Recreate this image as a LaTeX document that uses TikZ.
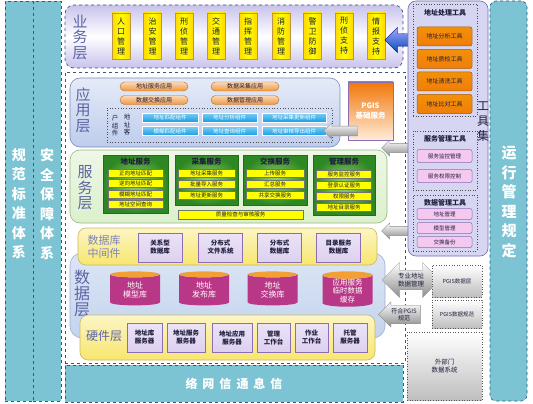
\documentclass[tikz,border=0pt]{standalone}
\usepackage{fontspec}
\setmainfont{Noto Sans CJK SC}
\usetikzlibrary{shapes.geometric,shapes.arrows}
\definecolor{tealc}{RGB}{124,196,212}
\definecolor{dashc}{RGB}{55,85,135}
\definecolor{lavc}{RGB}{200,194,236}
\definecolor{labc}{RGB}{92,100,165}
\definecolor{yelc}{RGB}{255,232,0}
\definecolor{ybord}{RGB}{185,150,70}
\definecolor{appc}{RGB}{190,204,236}
\definecolor{appb}{RGB}{120,140,190}
\definecolor{orgc}{RGB}{240,150,60}
\definecolor{bluec}{RGB}{20,160,230}
\definecolor{srvc}{RGB}{220,240,204}
\definecolor{srvb}{RGB}{150,185,130}
\definecolor{grnd}{RGB}{45,135,35}
\definecolor{grnl}{RGB}{150,210,110}
\definecolor{ylw}{RGB}{255,255,0}
\definecolor{midc}{RGB}{248,230,110}
\definecolor{midb}{RGB}{200,185,100}
\definecolor{purc}{RGB}{222,208,240}
\definecolor{purb}{RGB}{140,110,180}
\definecolor{datac}{RGB}{196,212,238}
\definecolor{magc}{RGB}{185,55,135}
\definecolor{toolc}{RGB}{214,214,242}
\definecolor{toolb}{RGB}{110,110,180}
\definecolor{torg}{RGB}{240,125,10}
\definecolor{pinkc}{RGB}{245,200,240}
\definecolor{grayc}{RGB}{190,190,190}
\definecolor{arrg}{RGB}{140,140,140}
\definecolor{txtd}{RGB}{30,30,60}
\newcommand\fsz[2]{\fontsize{#1}{#2}\selectfont}
\begin{document}
\begin{tikzpicture}[x=1pt,y=-1pt,
 every node/.style={inner sep=0pt, outer sep=0pt},
 col/.style={draw=dashc, dashed, line width=0.6pt, fill=tealc},
 coltxt/.style={align=center, text=white, font=\fsz{14}{19.5}\bfseries},
 vlab/.style={align=center, text=labc},
 ybox/.style={draw=ybord, line width=0.5pt, left color=yelc!85!orange, right color=yelc!85!orange, middle color=yellow, minimum width=18, minimum height=46, align=center, font=\fsz{8}{10}, text=txtd},
 capsule/.style={draw=orgc!75!black, line width=0.4pt, rounded corners=4.5, top color=orgc!35!white, bottom color=orgc, minimum width=68, minimum height=9, font=\fsz{6}{7}, text=txtd},
 bbtn/.style={draw=white, line width=0.3pt, top color=bluec!55!white, bottom color=bluec, minimum height=9, font=\fsz{5.5}{6}, text=white},
 ggrp/.style={draw=grnd!80!black, line width=0.4pt, shading=radial, inner color=grnl, outer color=grnd},
 gtitle/.style={font=\fsz{7.5}{8}\bfseries, text=txtd},
 yent/.style={draw=black!55, line width=0.4pt, fill=ylw, minimum height=8, font=\fsz{5.5}{6}, text=txtd},
 pbox/.style={draw=purb, line width=0.6pt, top color=purc!60!white, bottom color=purc, align=center, font=\fsz{6.5}{8}\bfseries, text=txtd},
 cyl/.style={cylinder, shape border rotate=90, aspect=0.25, cylinder uses custom fill, cylinder body fill=magc, cylinder end fill=orgc!90!yellow, minimum width=50, minimum height=34, align=center, font=\fsz{8}{9.5}, text=white},
 tbox/.style={draw=black!70, dotted, line width=0.6pt},
 ttitle/.style={font=\fsz{7}{8}\bfseries, text=txtd},
 obox/.style={draw=torg!70!black, line width=0.5pt, rounded corners=2, top color=torg!85!yellow, bottom color=torg, minimum width=55, minimum height=19, font=\fsz{6}{7}, text=txtd},
 kbox/.style={draw=purb, line width=0.5pt, rounded corners=2, fill=pinkc, minimum width=55, font=\fsz{5.5}{6}, text=txtd},
 gbox/.style={draw=black!65, dotted, line width=0.6pt, top color=white, bottom color=grayc, align=center, font=\fsz{5.5}{7}, text=txtd},
 garr/.style={single arrow, shape border rotate=180, draw=black!45, line width=0.3pt, top color=white, bottom color=arrg, single arrow head extend=3pt, align=center, font=\fsz{6}{7.5}, text=txtd}
]
\useasboundingbox (0,0) rectangle (533,404);
\fill[white] (0,0) rectangle (533,404);

% left columns
\node[col, minimum width=28, minimum height=400] (colA) at (19,201) {};
\node[col, minimum width=28, minimum height=400] (colB) at (47,201) {};
\node[coltxt] (colAt) at (19,204) {规\\范\\标\\准\\体\\系};
\node[coltxt] (colBt) at (47,204) {安\\全\\保\\障\\体\\系};

% right column
\node[col, rounded corners=6, minimum width=37, minimum height=400] (colR) at (508.5,201) {};
\node[coltxt, font=\fsz{15}{19.5}\bfseries] (colRt) at (509,202) {运\\行\\管\\理\\规\\定};

% business layer
\node[draw=dashc, dashed, line width=0.7pt, rounded corners=9, top color=lavc, bottom color=lavc, middle color=white, minimum width=338, minimum height=63] (biz) at (234,36.5) {};
\node[vlab, font=\fsz{15}{15.5}] (bizl) at (80,37) {业\\务\\层};
\node[ybox] (b1) at (121,36) {人\\口\\管\\理};
\node[ybox] (b2) at (152.5,36) {治\\安\\管\\理};
\node[ybox] (b3) at (184,36) {刑\\侦\\管\\理};
\node[ybox] (b4) at (216,36) {交\\通\\管\\理};
\node[ybox] (b5) at (248,36) {指\\挥\\管\\理};
\node[ybox] (b6) at (281,36) {消\\防\\管\\理};
\node[ybox] (b7) at (312.5,36) {警\\卫\\防\\御};
\node[ybox] (b8) at (344,36) {刑\\侦\\支\\持};
\node[ybox] (b9) at (376,36) {情\\报\\支\\持};

% lower dashed frame
\node[draw=dashc, dashed, line width=0.7pt, minimum width=340, minimum height=291] (low) at (235,217.5) {};

% arrows from tool set (drawn under tool column)
\node[single arrow, shape border rotate=180, draw=blue!50!black, line width=0.3pt, top color=blue!35!white, bottom color=blue!60!black!70!cyan, minimum height=24, minimum width=25, inner sep=6pt, single arrow head extend=6.5pt] (barr) at (400,40) {};
\node[garr, minimum height=28, minimum width=16, inner sep=4pt] (sarr) at (398,148) {};
\node[garr, minimum height=28, minimum width=16, inner sep=4pt] (marr) at (398,231) {};

% tool set column
\node[draw=toolb, line width=0.6pt, rounded corners=8, fill=toolc, minimum width=80, minimum height=255] (tools) at (448,128.5) {};
\node[font=\fsz{12}{15}, text=txtd, align=center] (toolsl) at (483,122) {工\\具\\集};
\node[tbox, minimum width=64, minimum height=112] (t1) at (445,60) {};
\node[ttitle] (t1l) at (445,13) {地址处理工具};
\node[obox] (o1) at (444.5,36.5) {地址分析工具};
\node[obox] (o2) at (444.5,59) {地址质检工具};
\node[obox] (o3) at (444.5,81.5) {地址清洗工具};
\node[obox] (o4) at (444.5,104) {地址比对工具};
\node[tbox, minimum width=64, minimum height=59] (t2) at (445,160.5) {};
\node[ttitle] (t2l) at (445,139) {服务管理工具};
\node[kbox, minimum height=13] (k1) at (444.5,156) {服务监控管理};
\node[kbox, minimum height=13] (k2) at (444.5,176) {服务权限控制};
\node[tbox, minimum width=64, minimum height=56] (t3) at (445,223) {};
\node[ttitle] (t3l) at (445,203) {数据管理工具};
\node[kbox, minimum height=11] (k3) at (444.5,214) {地址管理};
\node[kbox, minimum height=11] (k4) at (444.5,228) {模型管理};
\node[kbox, minimum height=11] (k5) at (444.5,242) {交换备份};

% application layer
\node[draw=appb, line width=0.6pt, rounded corners=10, top color=appc!40!white, bottom color=appc, minimum width=270, minimum height=69] (app) at (205,112.5) {};
\node[vlab, font=\fsz{15}{15.5}] (appl) at (83,110) {应\\用\\层};
\node[capsule] (c1) at (154,86.5) {地址服务应用};
\node[capsule] (c2) at (154,100) {数据交换应用};
\node[capsule] (c3) at (245,86.5) {数据采集应用};
\node[capsule] (c4) at (245,100) {数据管理应用};
\node[draw=black!70, dotted, line width=0.7pt, minimum width=225, minimum height=34] (comp) at (219.5,125) {};
\node[font=\fsz{6.5}{7.5}, text=txtd, align=center] (compl1) at (115,126) {户\\组\\件};
\node[font=\fsz{6.5}{7.5}, text=txtd, align=center] (compl2) at (127,125) {地\\址\\客};
\node[bbtn, minimum width=56] (u1) at (170,117.5) {地址匹配组件};
\node[bbtn, minimum width=55] (u2) at (229.5,117.5) {地址分析组件};
\node[bbtn, minimum width=64] (u3) at (294,117.5) {地址采集更新组件};
\node[bbtn, minimum width=56] (u4) at (170,131) {模糊匹配组件};
\node[bbtn, minimum width=55] (u5) at (229.5,131) {地址查询组件};
\node[bbtn, minimum width=64] (u6) at (294,131) {地址审核导出组件};

% PGIS base service
\node[draw=purb, line width=0.8pt, top color=torg!95!red, bottom color=orange!15!white, minimum width=45, minimum height=58, align=center, font=\fsz{7.5}{10}\bfseries, text=white] (pgis) at (370.5,111) {PGIS\\基础服务};
\node[garr, minimum height=34, minimum width=16, inner sep=4.5pt] (parr) at (343,131) {};

% service layer
\node[draw=srvb, line width=0.6pt, rounded corners=10, top color=srvc!50!white, bottom color=srvc, minimum width=317, minimum height=73] (srv) at (228.5,186.5) {};
\node[vlab, font=\fsz{15}{15.5}] (srvl) at (85,188) {服\\务\\层};
\node[ggrp, minimum width=65, minimum height=58] (g1) at (135.5,184) {};
\node[ggrp, minimum width=63, minimum height=50] (g2) at (206.5,180) {};
\node[ggrp, minimum width=64, minimum height=50] (g3) at (275,180) {};
\node[ggrp, minimum width=62, minimum height=60] (g4) at (344,185) {};
\node[gtitle] (g1l) at (135.5,162) {地址服务};
\node[gtitle] (g2l) at (206.5,162) {采集服务};
\node[gtitle] (g3l) at (275,162) {交换服务};
\node[gtitle] (g4l) at (344,162) {管理服务};
\node[yent, minimum width=55] (e11) at (135.5,173) {正向地址匹配};
\node[yent, minimum width=55] (e12) at (135.5,183.5) {逆向地址匹配};
\node[yent, minimum width=55] (e13) at (135.5,194) {模糊地址匹配};
\node[yent, minimum width=55] (e14) at (135.5,204.5) {地址空间查询};
\node[yent, minimum width=57] (e21) at (206.5,173.5) {地址采集服务};
\node[yent, minimum width=57] (e22) at (206.5,184.5) {批量导入服务};
\node[yent, minimum width=57] (e23) at (206.5,195.5) {地址更新服务};
\node[yent, minimum width=58] (e31) at (275,173.5) {上传服务};
\node[yent, minimum width=58] (e32) at (275,184.5) {汇总服务};
\node[yent, minimum width=58] (e33) at (275,195.5) {共享交换服务};
\node[yent, minimum width=55] (e41) at (344,174) {服务监控服务};
\node[yent, minimum width=55] (e42) at (344,185) {登录认证服务};
\node[yent, minimum width=55] (e43) at (344,196) {权限服务};
\node[yent, minimum width=55] (e44) at (344,207) {地址目录服务};
\node[yent, minimum width=125, minimum height=9] (qual) at (240.5,214.5) {质量检查与审核服务};

% data layer
\node[draw=appb!70!white, line width=0.6pt, rounded corners=12, top color=datac!60!white, bottom color=datac, minimum width=315, minimum height=85] (data) at (227.5,295.5) {};
\node[vlab, font=\fsz{16}{16}] (datal) at (82,293) {数\\据\\层};
\node[cyl] (d1) at (135,290) {地址\\模型库};
\node[cyl] (d2) at (204,290) {地址\\发布库};
\node[cyl] (d3) at (272.5,290) {地址\\交换库};
\node[cyl, font=\fsz{7.5}{8.5}] (d4) at (347.5,291) {应用服务\\临时数据\\缓存};

% database middleware
\node[draw=midb, line width=0.6pt, rounded corners=8, top color=midc!40!white, bottom color=midc, minimum width=299, minimum height=37] (mid) at (227.5,246.5) {};
\node[vlab, text=labc!80!white, font=\fsz{11}{13}] (midl) at (104,246.5) {数据库\\中间件};
\node[pbox, minimum width=44, minimum height=29] (m1) at (160,247.5) {关系型\\数据库};
\node[pbox, minimum width=44, minimum height=29] (m2) at (220.5,247.5) {分布式\\文件系统};
\node[pbox, minimum width=44, minimum height=29] (m3) at (279.5,247.5) {分布式\\数据库};
\node[pbox, minimum width=44, minimum height=29] (m4) at (338.5,247.5) {目录服务\\数据库};

% hardware layer
\node[draw=midb, line width=0.6pt, rounded corners=8, top color=midc!40!white, bottom color=midc, minimum width=295, minimum height=45] (hw) at (227.5,337.5) {};
\node[vlab, font=\fsz{12}{14}] (hwl) at (104,336) {硬件层};
\node[pbox, minimum width=35, minimum height=29] (h1) at (144.5,337.5) {地址库\\服务器};
\node[pbox, minimum width=38, minimum height=29] (h2) at (186,337.5) {地址服务\\服务器};
\node[pbox, minimum width=40, minimum height=29] (h3) at (232,337.5) {地址应用\\服务器};
\node[pbox, minimum width=33, minimum height=29] (h4) at (273.5,337.5) {管理\\工作台};
\node[pbox, minimum width=33, minimum height=29] (h5) at (311.5,337.5) {作业\\工作台};
\node[pbox, minimum width=34, minimum height=29] (h6) at (350,337.5) {托管\\服务器};

% bottom bar
\node[col, minimum width=338, minimum height=37, font=\fsz{12}{14}\bfseries, text=white] (net) at (234,383.5) {络\hspace{5pt}网\hspace{5pt}信\hspace{5pt}通\hspace{5pt}息\hspace{5pt}信};

% right side data exchange
\node[double arrow, draw=black!45, line width=0.3pt, top color=white, bottom color=arrg, minimum height=58, minimum width=35, inner sep=2pt, double arrow head extend=7pt, align=center, font=\fsz{6.5}{7.5}, text=txtd] (darr) at (411,280) {专业地址\\数据管理};
\node[gbox, minimum width=50, minimum height=32] (pl) at (457,281) {PGIS数据层};
\node[garr, minimum height=42, minimum width=25, inner sep=2pt] (farr) at (404,314.5) {符合PGIS\\规范};
\node[gbox, minimum width=50, minimum height=28] (ps) at (457,314) {PGIS数据规范};
\node[gbox, minimum width=75, minimum height=68, font=\fsz{6.5}{8}] (ext) at (444.5,366) {外部门\\数据系统};
\end{tikzpicture}
\end{document}
